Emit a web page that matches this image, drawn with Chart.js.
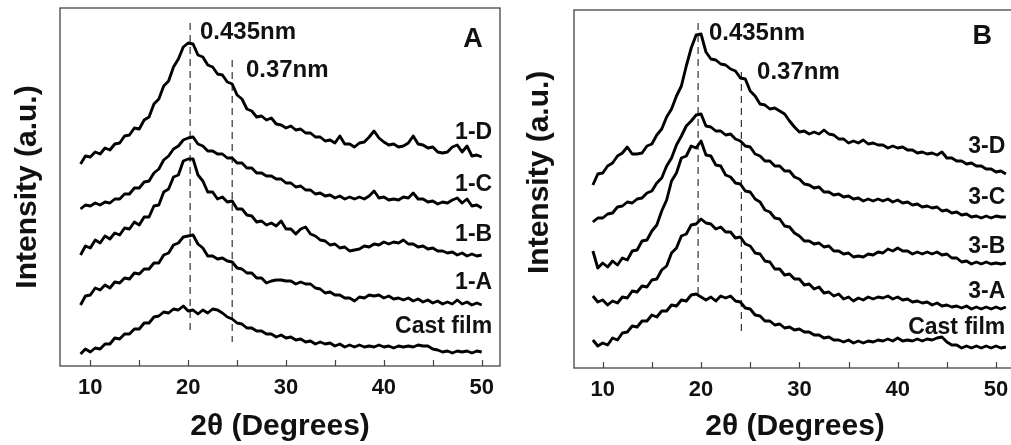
<!DOCTYPE html>
<html>
<head>
<meta charset="utf-8">
<script src="https://cdn.jsdelivr.net/npm/chart.js@4.4.1/dist/chart.umd.min.js"></script>
<style>
html,body{margin:0;padding:0;background:#fff;overflow:hidden;width:1011px;height:445px;}
#wa{position:absolute;left:0;top:0;width:505px;height:445px;}
#wb{position:absolute;left:505px;top:0;width:520px;height:445px;}
</style>
</head>
<body>
<div id="wa"><canvas id="chartA" width="505" height="445"></canvas></div>
<div id="wb"><canvas id="chartB" width="520" height="445"></canvas></div>
<script>
// ======= Data (2θ in degrees, intensity in a.u. incl. stacking offset) =======
const twoThetaA = [9,9.5,10,10.5,11,11.5,12,12.5,13,13.5,14,14.5,15,15.5,16,16.5,17,17.5,18,18.5,19,19.5,20,20.5,21,21.5,22,22.5,23,23.5,24,24.5,25,25.5,26,26.5,27,27.5,28,28.5,29,29.5,30,30.5,31,31.5,32,32.5,33,33.5,34,34.5,35,35.5,36,36.5,37,37.5,38,38.5,39,39.5,40,40.5,41,41.5,42,42.5,43,43.5,44,44.5,45,45.5,46,46.5,47,47.5,48,48.5,49,49.5,50];
const twoThetaB = [9,9.5,10,10.5,11,11.5,12,12.5,13,13.5,14,14.5,15,15.5,16,16.5,17,17.5,18,18.5,19,19.5,20,20.5,21,21.5,22,22.5,23,23.5,24,24.5,25,25.5,26,26.5,27,27.5,28,28.5,29,29.5,30,30.5,31,31.5,32,32.5,33,33.5,34,34.5,35,35.5,36,36.5,37,37.5,38,38.5,39,39.5,40,40.5,41,41.5,42,42.5,43,43.5,44,44.5,45,45.5,46,46.5,47,47.5,48,48.5,49,49.5,50,50.5,51];

const s1D = [203,211,210,215,213,219,217,223,224,231, 232,239,238,247,250,263,268,281,286,300, 308,320,324,323,312,310,302,300,293,292, 285,283,272,268,258,256,250,251,247,249, 243,242,239,241,237,238,234,234,230,230, 226,227,224,231,223,223,220,224,225,230, 236,229,225,222,223,220,221,224,231,223, 222,219,220,215,214,215,220,222,215,221, 211,212,210];
const s1C = [158,162,161,164,162,165,164,168,168,173, 173,179,179,185,186,194,198,207,211,218, 221,227,229,230,223,221,216,216,213,213, 209,209,204,204,199,199,194,194,191,191, 188,188,184,184,180,181,177,177,173,174, 171,172,169,171,168,170,168,170,168,171, 176,169,170,167,168,167,170,169,174,168, 168,165,166,163,165,164,167,169,164,168, 161,162,159];
const s1B = [112,121,119,127,124,131,128,134,132,139, 138,145,142,150,150,161,162,175,178,190, 192,206,208,208,192,186,175,175,168,170, 165,166,158,158,152,151,145,146,142,144, 141,146,138,138,133,138,140,133,131,127, 126,122,123,119,120,116,117,118,121,120, 123,122,125,123,125,124,127,123,123,120, 121,118,119,116,116,114,115,112,114,111, 113,111,112];
const s1A = [62,71,72,79,77,82,79,85,84,89, 88,94,93,98,98,104,104,112,114,122, 124,130,131,132,123,119,111,111,108,109, 106,105,99,98,94,94,89,89,84,86, 87,87,86,86,83,85,83,83,79,78, 74,75,72,72,69,69,66,70,69,72, 71,72,69,71,68,69,67,69,66,68, 65,67,64,66,63,65,63,67,63,65, 62,64,62];
const sCastA = [13,18,15,19,18,23,23,29,28,33, 33,38,38,44,44,50,51,55,54,58, 57,61,56,57,53,57,54,58,57,54, 50,48,44,43,39,39,36,36,33,33, 30,32,29,30,27,28,25,26,23,25, 23,24,21,23,20,22,20,22,20,21, 20,22,20,21,19,21,20,21,20,22, 21,21,18,17,15,16,14,16,15,16, 14,16,15];

const s3D = [182,193,194,201,204,211,214,220,213,213, 214,221,223,232,238,250,258,271,281,301, 319,332,333,315,308,307,303,302,298,296, 289,288,276,271,263,262,258,259,256,253, 246,240,235,236,233,235,233,237,233,232, 228,228,224,226,224,227,223,224,222,222, 219,221,219,220,217,217,214,215,213,214, 212,215,209,209,206,206,203,204,201,201, 198,198,195,196,193];
const s3C = [145,149,149,153,154,160,161,165,164,168, 169,174,176,184,189,201,209,222,231,241, 246,252,253,241,240,236,236,232,233,228, 226,221,220,213,211,206,206,201,201,196, 196,190,188,183,182,179,180,175,175,172, 173,170,171,168,169,166,168,166,168,166, 168,165,167,164,165,162,163,160,161,159, 160,156,157,154,155,152,153,150,151,149, 151,149,151,150,150];
const s3B = [116,99,104,100,106,102,109,107,116,117, 126,127,136,142,156,167,186,194,209,211, 221,219,226,212,211,202,201,192,190,184, 183,176,175,168,165,157,155,149,148,141, 140,134,131,126,126,123,124,120,121,116, 116,113,114,110,111,110,113,112,115,114, 118,116,119,116,116,113,115,113,115,113, 115,112,113,109,109,105,106,103,105,103, 105,103,104,103,104];
const s3A = [71,65,67,62,66,64,70,69,76,75, 81,80,87,88,97,101,114,119,131,133, 142,143,148,144,143,138,140,135,135,129, 130,123,121,114,113,106,105,98,98,92, 93,88,88,82,83,78,80,74,75,71, 73,68,70,66,69,67,70,68,70,69, 71,68,70,67,68,65,66,64,65,62, 64,61,62,60,61,59,61,58,60,58, 60,58,60,58,60];
const sCastB = [27,21,24,22,29,27,34,35,41,40, 46,46,52,50,56,56,62,61,67,66, 72,73,70,67,70,66,71,69,71,66, 65,59,58,52,51,46,46,42,43,39, 40,37,38,35,35,32,32,29,30,27, 27,25,27,24,26,24,26,25,27,26, 28,26,29,26,27,26,28,26,28,27, 29,30,25,22,22,19,21,19,21,19, 21,19,21,19,20];

const namesA = ['1-D','1-C','1-B','1-A','Cast film'];
const namesB = ['3-D','3-C','3-B','3-A','Cast film'];
const tickVals = [10,15,20,25,30,35,40,45,50];

// d-spacing marker lines: [2θ, top, bottom] and their captions
const spacingNames = ['0.435nm','0.37nm'];
const dashA = [[20.2,344,37],[24.5,307,25]];
const dashB = [[19.7,344,70],[24.1,295,35]];

const FONT = "'Liberation Sans', Arial, Helvetica, sans-serif";

// ======= Decoration plugin: frame, inward ticks, labels =======
const decor = {
  id:'decor',
  afterDraw(chart,args,o){
    const {ctx,chartArea:a,scales:{x,y}}=chart;
    ctx.save();
    ctx.strokeStyle='#444';ctx.lineWidth=1.3;
    ctx.strokeRect(a.left,a.top,a.right-a.left,a.bottom-a.top);
    ctx.beginPath();
    for(const v of tickVals){
      const px=Math.round(x.getPixelForValue(v))+0.5;
      ctx.moveTo(px,a.bottom);ctx.lineTo(px,a.bottom-6);
    }
    ctx.lineWidth=1.2;ctx.stroke();
    ctx.fillStyle='#111';ctx.textBaseline='middle';
    for(const t of o.texts){
      ctx.font='bold '+t.size+'px '+FONT;
      ctx.textAlign=t.align;
      ctx.fillText(t.text,x.getPixelForValue(t.x),y.getPixelForValue(t.y));
    }
    ctx.restore();
  }
};

function makeChart(id,xs,series,dashes,texts,lay){
  const datasets=series.map(s=>({
    data:xs.map((v,i)=>({x:v,y:s[i]})),
    borderColor:'#000',borderWidth:2.9,pointRadius:0,tension:0,borderJoinStyle:'round'
  }));
  for(const d of dashes){
    datasets.push({data:[{x:d[0],y:d[1]},{x:d[0],y:d[2]}],borderColor:'#333',borderWidth:1.2,borderDash:[7,5],pointRadius:0});
  }
  return new Chart(document.getElementById(id),{
    type:'line',
    data:{datasets},
    options:{
      responsive:false,animation:false,devicePixelRatio:1,
      layout:{padding:lay.pad},
      plugins:{legend:{display:false},tooltip:{enabled:false},decor:{texts}},
      scales:{
        x:{type:'linear',min:lay.xmin,max:lay.xmax,
          afterBuildTicks:s=>{s.ticks=tickVals.map(v=>({value:v}));},
          afterFit:s=>{s.height=lay.xh;},
          grid:{display:true,drawOnChartArea:false,drawTicks:false},
          border:{display:false},
          ticks:{padding:9,color:'#111',font:{family:FONT,size:22,weight:'bold'},
            callback:v=>v%10===0?String(v):''},
          title:{display:true,text:'2θ (Degrees)',color:'#111',padding:{top:0,bottom:0},
            font:{family:FONT,size:30,weight:'bold'}}
        },
        y:{type:'linear',min:lay.ymin,max:lay.ymax,
          afterFit:s=>{s.width=lay.yw;},
          grid:{display:false},border:{display:false},
          ticks:{display:false},
          title:{display:true,text:lay.ytitle,color:'#111',padding:{top:lay.ytpad,bottom:0},
            font:{family:FONT,size:30,weight:'bold'}}
        }
      }
    },
    plugins:[decor]
  });
}

const textsA=[
  {text:spacingNames[0],x:21.2,y:335,size:24,align:'left'},
  {text:spacingNames[1],x:25.9,y:297,size:24,align:'left'},
  {text:'A',x:50.1,y:327,size:27,align:'right'},
  {text:namesA[0],x:51.07,y:234,size:23,align:'right'},
  {text:namesA[1],x:51.07,y:182,size:23,align:'right'},
  {text:namesA[2],x:51.07,y:132,size:23,align:'right'},
  {text:namesA[3],x:51.07,y:84,size:23,align:'right'},
  {text:namesA[4],x:51.07,y:40,size:23,align:'right'}
];
const textsB=[
  {text:spacingNames[0],x:20.8,y:334,size:24,align:'left'},
  {text:spacingNames[1],x:25.7,y:295,size:24,align:'left'},
  {text:'B',x:49.6,y:330,size:27,align:'right'},
  {text:namesB[0],x:50.94,y:220,size:23,align:'right'},
  {text:namesB[1],x:50.94,y:169,size:23,align:'right'},
  {text:namesB[2],x:50.94,y:120,size:23,align:'right'},
  {text:namesB[3],x:50.94,y:75,size:23,align:'right'},
  {text:namesB[4],x:50.94,y:39,size:23,align:'right'}
];

makeChart('chartA',twoThetaA,[s1D,s1C,s1B,s1A,sCastA],dashA,textsA,
  {pad:{top:8,right:5,bottom:0,left:0},xmin:6.9,xmax:51.87,ymin:1,ymax:359,xh:79,yw:60,ytpad:10,ytitle:'Intensity (a.u.)'});
makeChart('chartB',twoThetaB,[s3D,s3C,s3B,s3A,sCastB],dashB,textsB,
  {pad:{top:10,right:9,bottom:0,left:0},xmin:7.08,xmax:52.03,ymin:-1,ymax:357,xh:77,yw:69,ytpad:17,ytitle:'    Intensity (a.u.)'});
</script>
</body>
</html>
